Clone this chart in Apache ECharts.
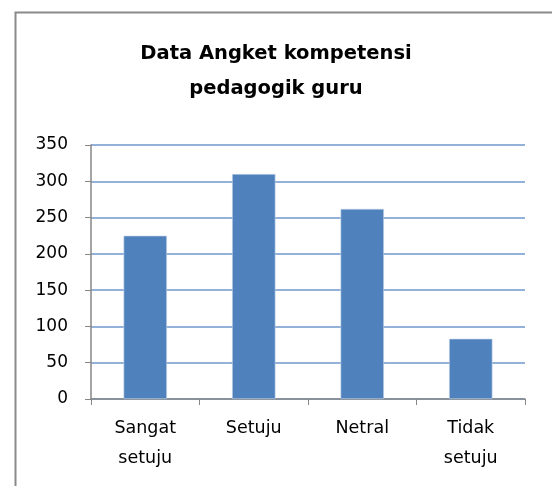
<!DOCTYPE html>
<html><head><meta charset="utf-8">
<script src="https://cdn.jsdelivr.net/npm/echarts@6/dist/echarts.min.js"></script>
<style>html,body{margin:0;padding:0;background:#fff}#c{width:552px;height:486px}</style>
</head><body><div id="c"></div>
<script>
const categories = ['Sangat\nsetuju', 'Setuju', 'Netral', 'Tidak\nsetuju'];
const values = [225, 310, 262, 83];
const titleText = 'Data Angket kompetensi\npedagogik guru';
const FONT = '"DejaVu Sans", sans-serif';
const chart = echarts.init(document.getElementById('c'));
chart.setOption({
  animation: false,
  backgroundColor: '#fff',
  graphic: [{
    type: 'rect', left: 13, top: 10, shape: { width: 600, height: 600 },
    style: { fill: 'none', stroke: '#8a8a8a', lineWidth: 2 }, z: 0
  }],
  title: {
    text: titleText, left: 271, top: 31, textAlign: 'center',
    textStyle: { fontFamily: FONT, fontWeight: 'bold', fontSize: 19.5, lineHeight: 35, color: '#000' }
  },
  grid: { left: 91, right: 27, top: 145, bottom: 87 },
  xAxis: {
    type: 'category', data: categories,
    axisLine: { lineStyle: { color: '#868686', width: 1.5 } },
    axisTick: { show: true, length: 6, lineStyle: { color: '#868686' } },
    axisLabel: { fontFamily: FONT, fontSize: 17.5, color: '#000', lineHeight: 30, margin: 14 }
  },
  yAxis: {
    type: 'value', min: 0, max: 350, interval: 50,
    axisLine: { show: true, lineStyle: { color: '#868686', width: 1.5 } },
    axisTick: { show: true, length: 6, lineStyle: { color: '#868686' } },
    axisLabel: { fontFamily: FONT, fontSize: 17, color: '#000', margin: 23 },
    splitLine: { lineStyle: { color: '#6f97cc', width: 1.5 } }
  },
  series: [{
    type: 'bar', data: values, barWidth: '40%',
    itemStyle: { color: '#4f81bd', borderColor: '#c9d7ea', borderWidth: 0.6 }
  }]
});
</script></body></html>
